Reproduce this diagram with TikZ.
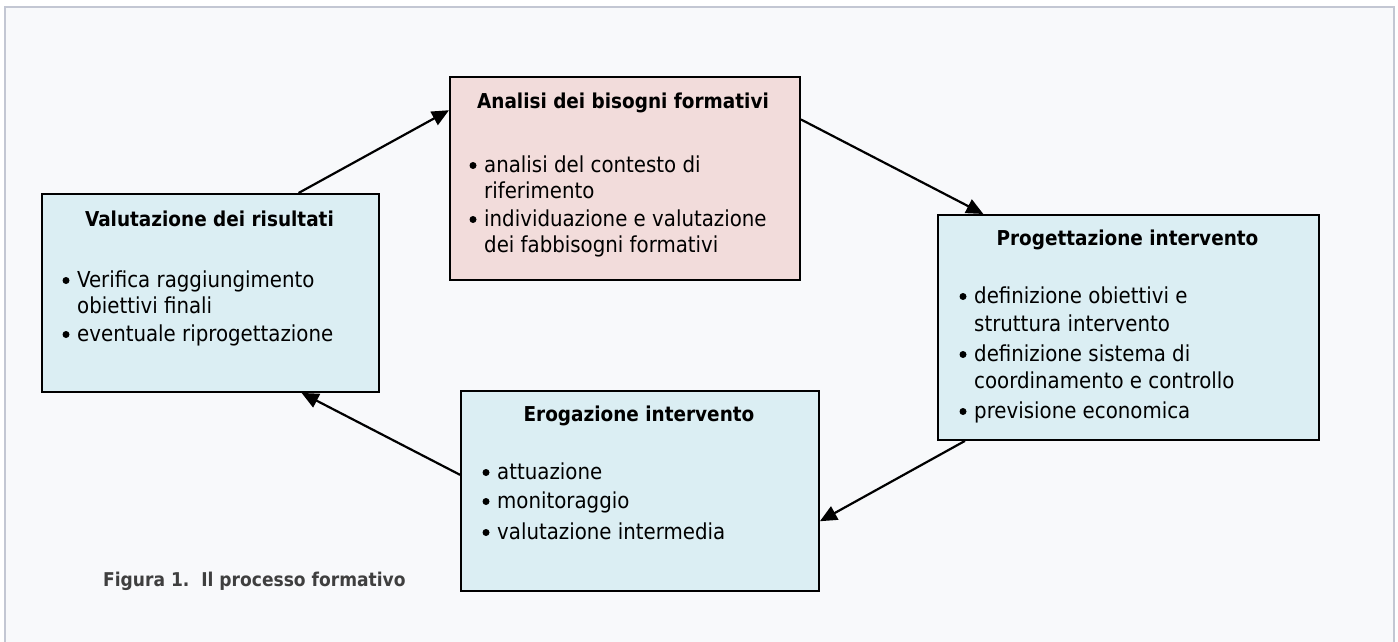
\documentclass[tikz,border=0pt]{standalone}
\usepackage{fontspec}
\setmainfont{DejaVu Sans Condensed}
\usetikzlibrary{arrows.meta,calc}
\definecolor{bgc}{HTML}{F8F9FB}
\definecolor{framec}{HTML}{C3C7D3}
\definecolor{bluec}{HTML}{DBEEF3}
\definecolor{pinkc}{HTML}{F2DCDB}
\definecolor{capc}{HTML}{3F3F3F}
\tikzset{
  box/.style={draw=black, line width=1.9pt, inner sep=0pt, anchor=north west},
  ttl/.style={font=\fontsize{20.5}{24}\selectfont\bfseries, inner sep=0pt, anchor=base},
  txt/.style={font=\fontsize{22}{26}\selectfont, inner sep=0pt, anchor=base west},
  bul/.style={circle, fill=black, inner sep=0pt, minimum size=7pt, yshift=6.5pt},
  arr/.style={line width=2.2pt, -{Triangle[length=17pt,width=15pt]}},
}
\begin{document}
\begin{tikzpicture}[x=1pt,y=-1pt]
\useasboundingbox (0,0) rectangle (1398,642);
\draw[framec, line width=2.5pt, fill=bgc] (5,7) rectangle (1394,660);

% boxes
\node[box, fill=bluec, minimum width=337pt, minimum height=198pt] (val) at (41,193) {};
\node[box, fill=pinkc, minimum width=350pt, minimum height=203pt] (ana) at (449,76) {};
\node[box, fill=bluec, minimum width=381pt, minimum height=225pt] (prog) at (937,214) {};
\node[box, fill=bluec, minimum width=358pt, minimum height=200pt] (ero) at (460,390) {};

% Analisi
\node[ttl] (anat) at (623,108) {Analisi dei bisogni formativi};
\node[bul] (anab1) at (473,172) {};
\node[txt] (ana1) at (484,172) {analisi del contesto di};
\node[txt] (ana2) at (484,198) {riferimento};
\node[bul] (anab2) at (473,226) {};
\node[txt] (ana3) at (484,226) {individuazione e valutazione};
\node[txt] (ana4) at (484,252) {dei fabbisogni formativi};

% Valutazione
\node[ttl] (valt) at (209.5,226) {Valutazione dei risultati};
\node[bul] (valb1) at (66,287) {};
\node[txt] (val1) at (77,287) {Verifica raggiungimento};
\node[txt] (val2) at (77,313) {obiettivi finali};
\node[bul] (valb2) at (66,341) {};
\node[txt] (val3) at (77,341) {eventuale riprogettazione};

% Progettazione
\node[ttl] (progt) at (1127.5,245) {Progettazione intervento};
\node[bul] (progb1) at (963,303) {};
\node[txt] (prog1) at (974,303) {definizione obiettivi e};
\node[txt] (prog2) at (974,331) {struttura intervento};
\node[bul] (progb2) at (963,361) {};
\node[txt] (prog3) at (974,361) {definizione sistema di};
\node[txt] (prog4) at (974,388) {coordinamento e controllo};
\node[bul] (progb3) at (963,418) {};
\node[txt] (prog5) at (974,418) {previsione economica};

% Erogazione
\node[ttl] (erot) at (639,421) {Erogazione intervento};
\node[bul] (erob1) at (486,479) {};
\node[txt] (ero1) at (497,479) {attuazione};
\node[bul] (erob2) at (486,508) {};
\node[txt] (ero2) at (497,508) {monitoraggio};
\node[bul] (erob3) at (486,539) {};
\node[txt] (ero3) at (497,539) {valutazione intermedia};

% caption
\node[font=\fontsize{19}{22}\selectfont\bfseries, text=capc, inner sep=0pt, anchor=base west] (cap) at (103,586) {Figura 1.\ \ Il processo formativo};

% connectors
\draw[arr] ($(val.north west)!0.76!(val.north east)$) -- ($(ana.north west)!0.167!(ana.south west)$);
\draw[arr] ($(ana.north east)!0.212!(ana.south east)$) -- ($(prog.north west)!0.121!(prog.north east)$);
\draw[arr] ($(prog.south west)!0.073!(prog.south east)$) -- ($(ero.north east)!0.65!(ero.south east)$);
\draw[arr] ($(ero.north west)!0.42!(ero.south west)$) -- ($(val.south west)!0.769!(val.south east)$);
\end{tikzpicture}
\end{document}
